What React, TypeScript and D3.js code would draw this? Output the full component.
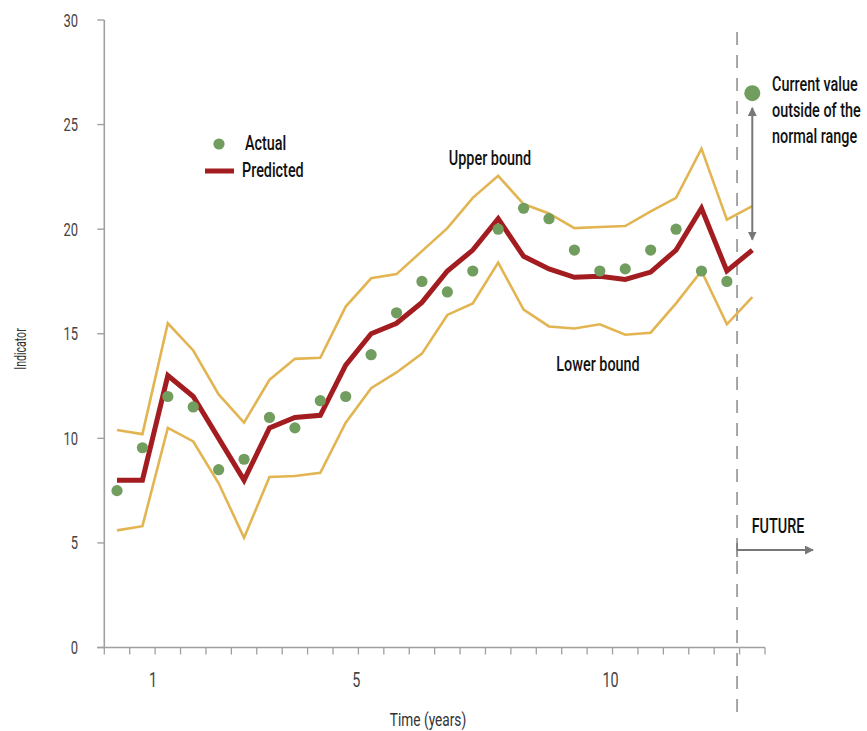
import React from "react";
import * as d3 from "d3";

const W = 867;
const H = 731;

// half-year midpoints (years)
const times = [0.25, 0.75, 1.25, 1.75, 2.25, 2.75, 3.25, 3.75, 4.25, 4.75, 5.25, 5.75, 6.25, 6.75, 7.25, 7.75, 8.25, 8.75, 9.25, 9.75, 10.25, 10.75, 11.25, 11.75, 12.25, 12.75];
const actual = [7.5, 9.55, 12, 11.5, 8.5, 9, 11, 10.5, 11.8, 12, 14, 16, 17.5, 17, 18, 20, 21, 20.5, 19, 18, 18.1, 19, 20, 18, 17.5];
const currentValue = 26.5;
const predicted = [8, 8, 13, 12, 10, 8, 10.5, 11, 11.1, 13.5, 15, 15.5, 16.5, 18, 19, 20.5, 18.7, 18.1, 17.7, 17.75, 17.6, 17.95, 19, 21, 18, 19];
const upper = [10.4, 10.2, 15.5, 14.2, 12.1, 10.75, 12.8, 13.8, 13.85, 16.3, 17.65, 17.85, 18.95, 20.05, 21.5, 22.55, 21.2, 20.75, 20.05, 20.1, 20.15, 20.85, 21.5, 23.85, 20.45, 21.1];
const lower = [5.6, 5.8, 10.5, 9.85, 7.85, 5.25, 8.15, 8.2, 8.35, 10.75, 12.4, 13.15, 14.05, 15.9, 16.45, 18.4, 16.15, 15.35, 15.25, 15.45, 14.95, 15.05, 16.45, 18.0, 15.45, 16.75];
const yTicks = [0, 5, 10, 15, 20, 25, 30];
const xTickLabels = [1, 5, 10];
const futureStart = 12.45;
const rangeArrow = [25.8, 19.5];
const noteLines = ["Current value", "outside of the", "normal range"];

const FONT = "Roboto, 'Noto Sans', sans-serif";
const SX = 0.72;
const RED = "#a31c20";
const GOLD = "#e2b552";
const GREEN = "#719d5f";
const AXIS = "#a0a0a0";
const TEXT = "#111";

function T({
  x,
  y,
  children,
  size,
  anchor = "start",
  fill = TEXT,
  rotate = 0,
  weight = 500,
  sx = SX,
}: {
  x: number;
  y: number;
  children: React.ReactNode;
  size: number;
  anchor?: string;
  fill?: string;
  rotate?: number;
  weight?: number;
  sx?: number;
}) {
  return (
    <text
      transform={`translate(${x},${y}) rotate(${rotate}) scale(${sx},1)`}
      textAnchor={anchor}
      fontSize={size}
      fill={fill}
      fontWeight={weight}
      fontFamily={FONT}
    >
      {children}
    </text>
  );
}

export default function App() {
  const x = d3.scaleLinear().domain([0, 13]).range([104.3, 765]);
  const y = d3.scaleLinear().domain([0, 30]).range([647.5, 20]);
  const halfTicks = d3.range(0, 13.01, 0.5);

  const line = d3
    .line<[number, number]>()
    .x((d) => x(d[0]))
    .y((d) => y(d[1]));

  const pts = (vals: number[]) => vals.map((v, i) => [times[i], v] as [number, number]);

  const ax = x(times[times.length - 1]);
  const fx = x(futureStart);

  return (
    <svg
      width={W}
      height={H}
      style={{ position: "absolute", left: 0, top: 0, background: "#fff" }}
    >
      <defs>
        <marker id="ah" viewBox="0 0 10 10" refX="9" refY="5" markerWidth="4.5" markerHeight="4.5" orient="auto-start-reverse">
          <path d="M0,0 L10,5 L0,10 z" fill="#777" />
        </marker>
      </defs>

      {/* y axis */}
      <line x1={x(0)} x2={x(0)} y1={y(30)} y2={y(0)} stroke={AXIS} strokeWidth={1.6} />
      {yTicks.map((t) => (
        <g key={t}>
          <line x1={x(0) - 7} x2={x(0)} y1={y(t)} y2={y(t)} stroke={AXIS} strokeWidth={1.4} />
          <T x={78} y={y(t) + 6.5} size={18} anchor="end" fill="#444" weight={400}>
            {t}
          </T>
        </g>
      ))}
      <T x={26} y={349} size={16} anchor="middle" fill="#333" rotate={-90} weight={400} sx={0.66}>
        Indicator
      </T>

      {/* x axis */}
      <line x1={x(0) - 7} x2={x(13)} y1={y(0)} y2={y(0)} stroke={AXIS} strokeWidth={1.6} />
      {halfTicks.map((t) => (
        <line key={t} x1={x(t)} x2={x(t)} y1={y(0)} y2={y(0) + 7} stroke={AXIS} strokeWidth={1.3} />
      ))}
      {xTickLabels.map((t) => (
        <T key={t} x={x(t) - 2} y={687} size={20} anchor="middle" fill="#444" weight={400}>
          {t}
        </T>
      ))}
      <T x={428} y={726} size={19} anchor="middle" fill="#333" weight={400}>
        Time (years)
      </T>

      {/* future divider */}
      <line x1={fx} x2={fx} y1={32} y2={712} stroke="#777" strokeWidth={1.3} strokeDasharray="13,10" />
      <line x1={fx} x2={fx + 76} y1={550} y2={550} stroke="#777" strokeWidth={2} markerEnd="url(#ah)" />
      <line x1={fx} x2={fx} y1={543} y2={557} stroke="#777" strokeWidth={1.5} />
      <T x={778} y={533} size={20} anchor="middle">
        FUTURE
      </T>

      {/* bounds */}
      <path d={line(pts(upper)) || ""} fill="none" stroke={GOLD} strokeWidth={2.6} />
      <path d={line(pts(lower)) || ""} fill="none" stroke={GOLD} strokeWidth={2.6} />

      {/* predicted */}
      <path d={line(pts(predicted)) || ""} fill="none" stroke={RED} strokeWidth={5} />

      {/* actual */}
      {actual.map((v, i) => (
        <circle key={i} cx={x(times[i])} cy={y(v)} r={5.6} fill={GREEN} />
      ))}
      <circle cx={ax} cy={y(currentValue)} r={8} fill={GREEN} />

      {/* range arrow */}
      <line
        x1={ax}
        x2={ax}
        y1={y(rangeArrow[0])}
        y2={y(rangeArrow[1])}
        stroke="#777"
        strokeWidth={2}
        markerStart="url(#ah)"
        markerEnd="url(#ah)"
      />

      {/* annotations */}
      {noteLines.map((s, i) => (
        <T key={s} x={772} y={91 + i * 26} size={20}>
          {s}
        </T>
      ))}
      <T x={490} y={165} size={20} anchor="middle">
        Upper bound
      </T>
      <T x={598} y={371} size={20} anchor="middle">
        Lower bound
      </T>

      {/* legend */}
      <circle cx={219} cy={144} r={5.6} fill={GREEN} />
      <T x={245} y={150} size={20}>
        Actual
      </T>
      <line x1={205} x2={234} y1={171} y2={171} stroke={RED} strokeWidth={5} />
      <T x={242} y={177} size={20}>
        Predicted
      </T>
    </svg>
  );
}
